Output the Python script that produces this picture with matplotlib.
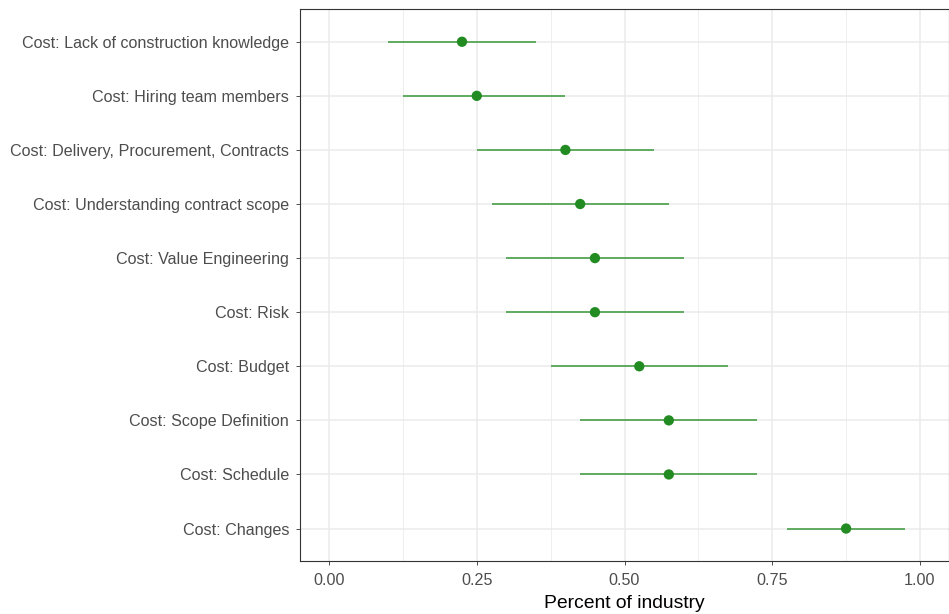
import matplotlib
matplotlib.use("Agg")
import matplotlib.pyplot as plt
from matplotlib.ticker import MultipleLocator

categories = [
    "Cost: Lack of construction knowledge",
    "Cost: Hiring team members",
    "Cost: Delivery, Procurement, Contracts",
    "Cost: Understanding contract scope",
    "Cost: Value Engineering",
    "Cost: Risk",
    "Cost: Budget",
    "Cost: Scope Definition",
    "Cost: Schedule",
    "Cost: Changes",
]
estimate = [0.225, 0.25, 0.40, 0.425, 0.45, 0.45, 0.525, 0.575, 0.575, 0.875]
lower = [0.10, 0.125, 0.25, 0.275, 0.30, 0.30, 0.375, 0.425, 0.425, 0.775]
upper = [0.35, 0.40, 0.55, 0.575, 0.60, 0.60, 0.675, 0.725, 0.725, 0.975]
xticks = [0.0, 0.25, 0.5, 0.75, 1.0]
xticklabels = ["0.00", "0.25", "0.50", "0.75", "1.00"]

plt.rcParams["font.family"] = ["Liberation Sans", "DejaVu Sans"]

W, H = 949, 614
fig = plt.figure(figsize=(W / 100, H / 100), dpi=100)
left, right, bottom, top = 299.5, 949.5, 561, 9.3
ax = fig.add_axes([left / W, 1 - bottom / H, (right - left) / W, (bottom - top) / H])

n = len(categories)
ypos = [n - 1 - i for i in range(n)]

ax.hlines(ypos, lower, upper, color="#228B22", alpha=0.75, lw=1.3, zorder=3)
ax.scatter(estimate, ypos, s=55, color="#228B22", edgecolors="none", zorder=4)

ax.set_xlim(-0.05, 1.05)
ax.set_ylim(-0.6, n - 1 + 0.6)
ax.set_xticks(xticks)
ax.set_xticklabels(xticklabels)
ax.xaxis.set_minor_locator(MultipleLocator(0.125))
ax.set_yticks(ypos)
ax.set_yticklabels(categories)

ax.grid(True, which="major", color="#EBEBEB", lw=1.1, zorder=0)
ax.grid(True, which="minor", axis="x", color="#EBEBEB", lw=0.55, zorder=0)
ax.set_axisbelow(True)

ax.tick_params(axis="both", which="major", length=3.0, width=0.6, color="#333333",
               labelcolor="#4D4D4D", labelsize=11.6)
ax.tick_params(axis="y", pad=4.5)
ax.tick_params(axis="x", pad=5.5)
ax.tick_params(axis="x", which="minor", length=0)
for s in ax.spines.values():
    s.set_color("#333333")
    s.set_linewidth(0.8)

ax.set_xlabel("Percent of industry", fontsize=13.9, color="black", labelpad=5)

fig.savefig("out.png", dpi=100, facecolor="white")
